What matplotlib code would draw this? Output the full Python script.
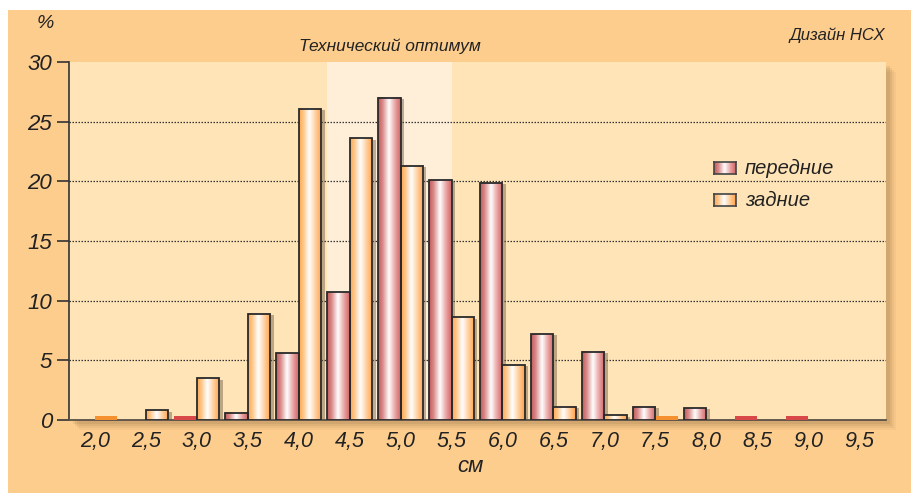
import numpy as np
import matplotlib
matplotlib.use("Agg")
import matplotlib.pyplot as plt
from matplotlib.colors import LinearSegmentedColormap
from matplotlib.patches import Rectangle
import matplotlib.patheffects as pe

# ---- data ----
categories = ["2,0", "2,5", "3,0", "3,5", "4,0", "4,5", "5,0", "5,5",
              "6,0", "6,5", "7,0", "7,5", "8,0", "8,5", "9,0", "9,5"]
front = [0.0, 0.0, 0.1, 0.6, 5.6, 10.7, 27.0, 20.1,
         19.9, 7.2, 5.7, 1.1, 1.0, 0.1, 0.1, 0.0]   # передние
rear = [0.1, 0.8, 3.5, 8.9, 26.1, 23.6, 21.3, 8.6,
        4.6, 1.1, 0.4, 0.05, 0.0, 0.0, 0.0, 0.0]    # задние
yticks = [0, 5, 10, 15, 20, 25, 30]
series_names = ["передние", "задние"]
band_range = (4.56, 7.0)   # "Технический оптимум" region in category units

FONT = ["Liberation Sans Narrow", "Liberation Sans", "DejaVu Sans"]
plt.rcParams["font.family"] = FONT
plt.rcParams["font.style"] = "italic"

W, H = 912, 493
fig = plt.figure(figsize=(W / 100, H / 100), dpi=100)
fig.patch.set_facecolor("white")

BG = "#FDCD8E"
PLOT_BG = "#FFE4B7"
BAND = "#FFEFD9"
TXT = "#222222"

# orange background
fig.patches.append(Rectangle((8 / W, 0), 1, 1 - 10 / H, transform=fig.transFigure,
                             facecolor=BG, edgecolor="none", zorder=-10))

left, right, top, bottom = 69, 886, 62, 420
ax_rect = [left / W, 1 - bottom / H, (right - left) / W, (bottom - top) / H]

# plot-area shadow (soft)
for d, a in [(10, 0.06), (8, 0.08), (6, 0.10), (4, 0.12)]:
    fig.patches.append(Rectangle(((left + d) / W, 1 - (bottom + d) / H),
                                 (right - left) / W, (bottom - top) / H,
                                 transform=fig.transFigure, facecolor="#7a5a30",
                                 alpha=a, edgecolor="none", zorder=-5))

ax = fig.add_axes(ax_rect)
ax.set_facecolor(PLOT_BG)

x = np.arange(len(categories))
bw = 0.44

ax.axvspan(band_range[0], band_range[1], color=BAND, zorder=0.5, lw=0)

# grid
for yv in yticks[1:-1]:
    ax.axhline(yv, color="#333333", lw=0.9, ls=(0, (1.2, 1.2)), zorder=1)

cm_front = LinearSegmentedColormap.from_list(
    "f", [(0, "#C25A5A"), (0.2, "#DA8A8A"), (0.48, "#FFFFFF"), (0.75, "#E9A3A3"), (1, "#CF6565")])
cm_rear = LinearSegmentedColormap.from_list(
    "r", [(0, "#FFA850"), (0.2, "#FFC98F"), (0.45, "#FFFFFF"), (0.75, "#FFCB95"), (1, "#FFA04A")])
grad = np.linspace(0, 1, 64).reshape(1, -1)

def draw_series(xpos, vals, cmap, line_col):
    # shadow
    ax.bar(xpos, vals, bw, align="edge", facecolor="none", lw=0, zorder=2,
           path_effects=[pe.SimplePatchShadow(offset=(2.5, -1.0), shadow_rgbFace="#6b5a45", alpha=0.45)])
    bars = ax.bar(xpos, vals, bw, align="edge", facecolor="none", lw=0, zorder=4)
    for b, v in zip(bars, vals):
        if v <= 0:
            continue
        x0, y0 = b.get_x(), b.get_y()
        w, h = b.get_width(), b.get_height()
        if v < 0.3:
            ax.fill_between([x0, x0 + w], 0, 0.3, color=line_col, lw=0, zorder=3)
            continue
        ax.imshow(grad, extent=[x0, x0 + w, y0, y0 + h], aspect="auto", cmap=cmap,
                  zorder=3, interpolation="bicubic")
        b.set_edgecolor("#2a2a2a")
        b.set_linewidth(1.3)
    return bars

draw_series(x - bw, front, cm_front, "#D84848")
draw_series(x, rear, cm_rear, "#F59030")

ax.set_xlim(-0.51, 15.53)
ax.set_ylim(0, 30)

for s in ["top", "right"]:
    ax.spines[s].set_visible(False)
ax.spines["left"].set_color("#333333")
ax.spines["left"].set_linewidth(1.2)
ax.spines["bottom"].set_color("#5a5047")
ax.spines["bottom"].set_linewidth(1.3)
ax.spines["bottom"].set_zorder(2.5)

ax.set_yticks(yticks)
ax.set_yticklabels([str(v) for v in yticks])
ax.tick_params(axis="y", length=9, width=1.2, color="#333333", pad=3,
               labelsize=16, labelcolor=TXT)
ax.set_xticks(x)
ax.set_xticklabels(categories)
ax.tick_params(axis="x", length=0, pad=8, labelsize=15.5, labelcolor=TXT)

# texts
fig.text(45 / W, 1 - 24 / H, "%", fontsize=14, color=TXT, ha="center", va="center")
fig.text(390 / W, 1 - 46 / H, "Технический оптимум", fontsize=12.5, color=TXT,
         ha="center", va="center")
fig.text(885 / W, 1 - 35 / H, "Дизайн НСХ", fontsize=12, color=TXT,
         ha="right", va="center")
fig.text(470 / W, 1 - 466 / H, "см", fontsize=16, color=TXT, ha="center", va="center")

# legend (custom gradient swatches)
for (yc, cmap, name) in [(168, cm_front, series_names[0]), (200, cm_rear, series_names[1])]:
    sw = fig.add_axes([714 / W, 1 - (yc + 6) / H, 22 / W, 12 / H])
    sw.imshow(grad, aspect="auto", cmap=cmap, interpolation="bicubic", extent=[0, 1, 0, 1])
    sw.set_xticks([]); sw.set_yticks([])
    for s in sw.spines.values():
        s.set_color("#444444"); s.set_linewidth(1.2)
    fig.text(745 / W, 1 - yc / H, name, fontsize=14.5, color=TXT, ha="left", va="center")

fig.savefig("out.png", dpi=100, facecolor=fig.get_facecolor())
